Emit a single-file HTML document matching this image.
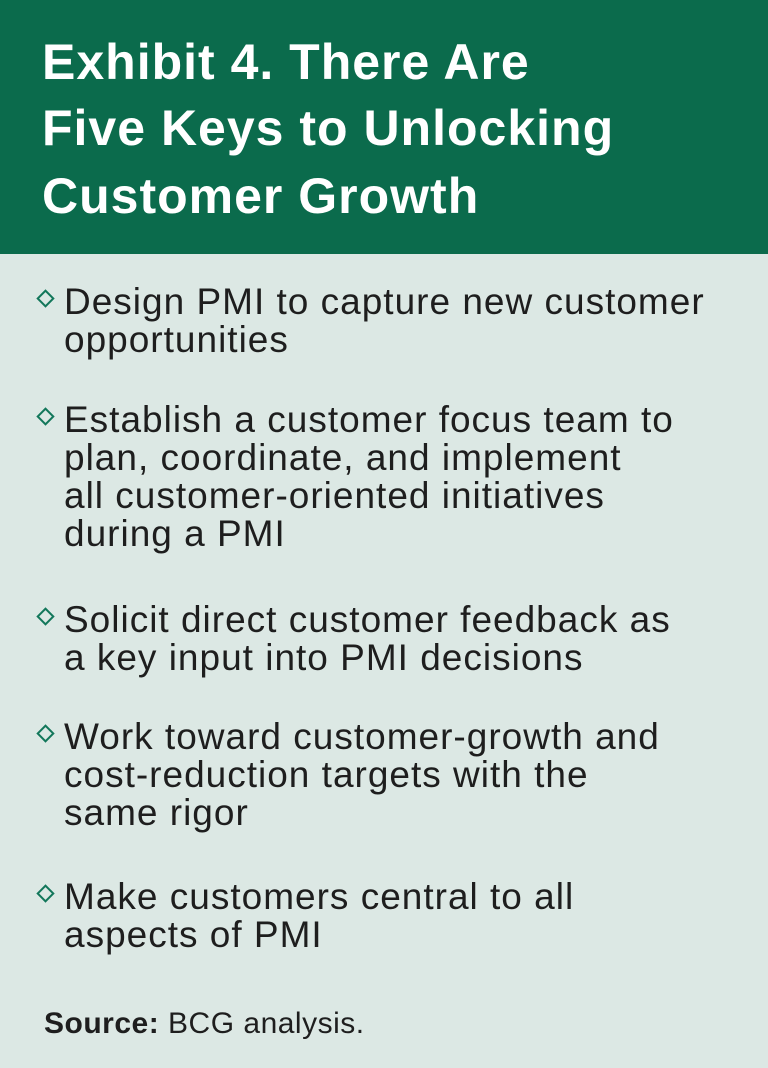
<!DOCTYPE html>
<html><head><meta charset="utf-8"><style>
body{margin:0;width:768px;height:1068px;background:#dce8e4;position:relative;overflow:hidden;font-family:"Liberation Sans",sans-serif}
.hdr{position:absolute;left:0;top:0;width:768px;height:254px;background:#0b6b4c}
.t{position:absolute;left:42px;color:#fff;font-weight:bold;font-size:50px;letter-spacing:1px;white-space:nowrap;line-height:1}
.l{position:absolute;left:64px;color:#1e1e1e;font-size:37px;letter-spacing:1px;white-space:nowrap;line-height:1}
.d{position:absolute;left:39px;width:9px;height:9px;border:2.5px solid #12775a;transform:rotate(45deg)}
.s{position:absolute;left:44px;top:1009px;font-size:30px;letter-spacing:0.5px;color:#1e1e1e;white-space:nowrap;line-height:1}
</style></head><body>
<div class="hdr"></div>
<div class="t" style="top:37px">Exhibit 4. There Are</div>
<div class="t" style="top:103px">Five Keys to Unlocking</div>
<div class="t" style="top:171px">Customer Growth</div>

<div class="d" style="top:292px"></div>
<div class="l" style="top:283px">Design PMI to capture new customer</div>
<div class="l" style="top:321px">opportunities</div>

<div class="d" style="top:410px"></div>
<div class="l" style="top:401px">Establish a customer focus team to</div>
<div class="l" style="top:439px">plan, coordinate, and implement</div>
<div class="l" style="top:477px">all customer-oriented initiatives</div>
<div class="l" style="top:515px">during a PMI</div>

<div class="d" style="top:610px"></div>
<div class="l" style="top:601px">Solicit direct customer feedback as</div>
<div class="l" style="top:639px">a key input into PMI decisions</div>

<div class="d" style="top:727px"></div>
<div class="l" style="top:718px">Work toward customer-growth and</div>
<div class="l" style="top:756px">cost-reduction targets with the</div>
<div class="l" style="top:794px">same rigor</div>

<div class="d" style="top:887px"></div>
<div class="l" style="top:878px">Make customers central to all</div>
<div class="l" style="top:916px">aspects of PMI</div>

<div class="s"><b>Source:</b> BCG analysis.</div>
</body></html>
